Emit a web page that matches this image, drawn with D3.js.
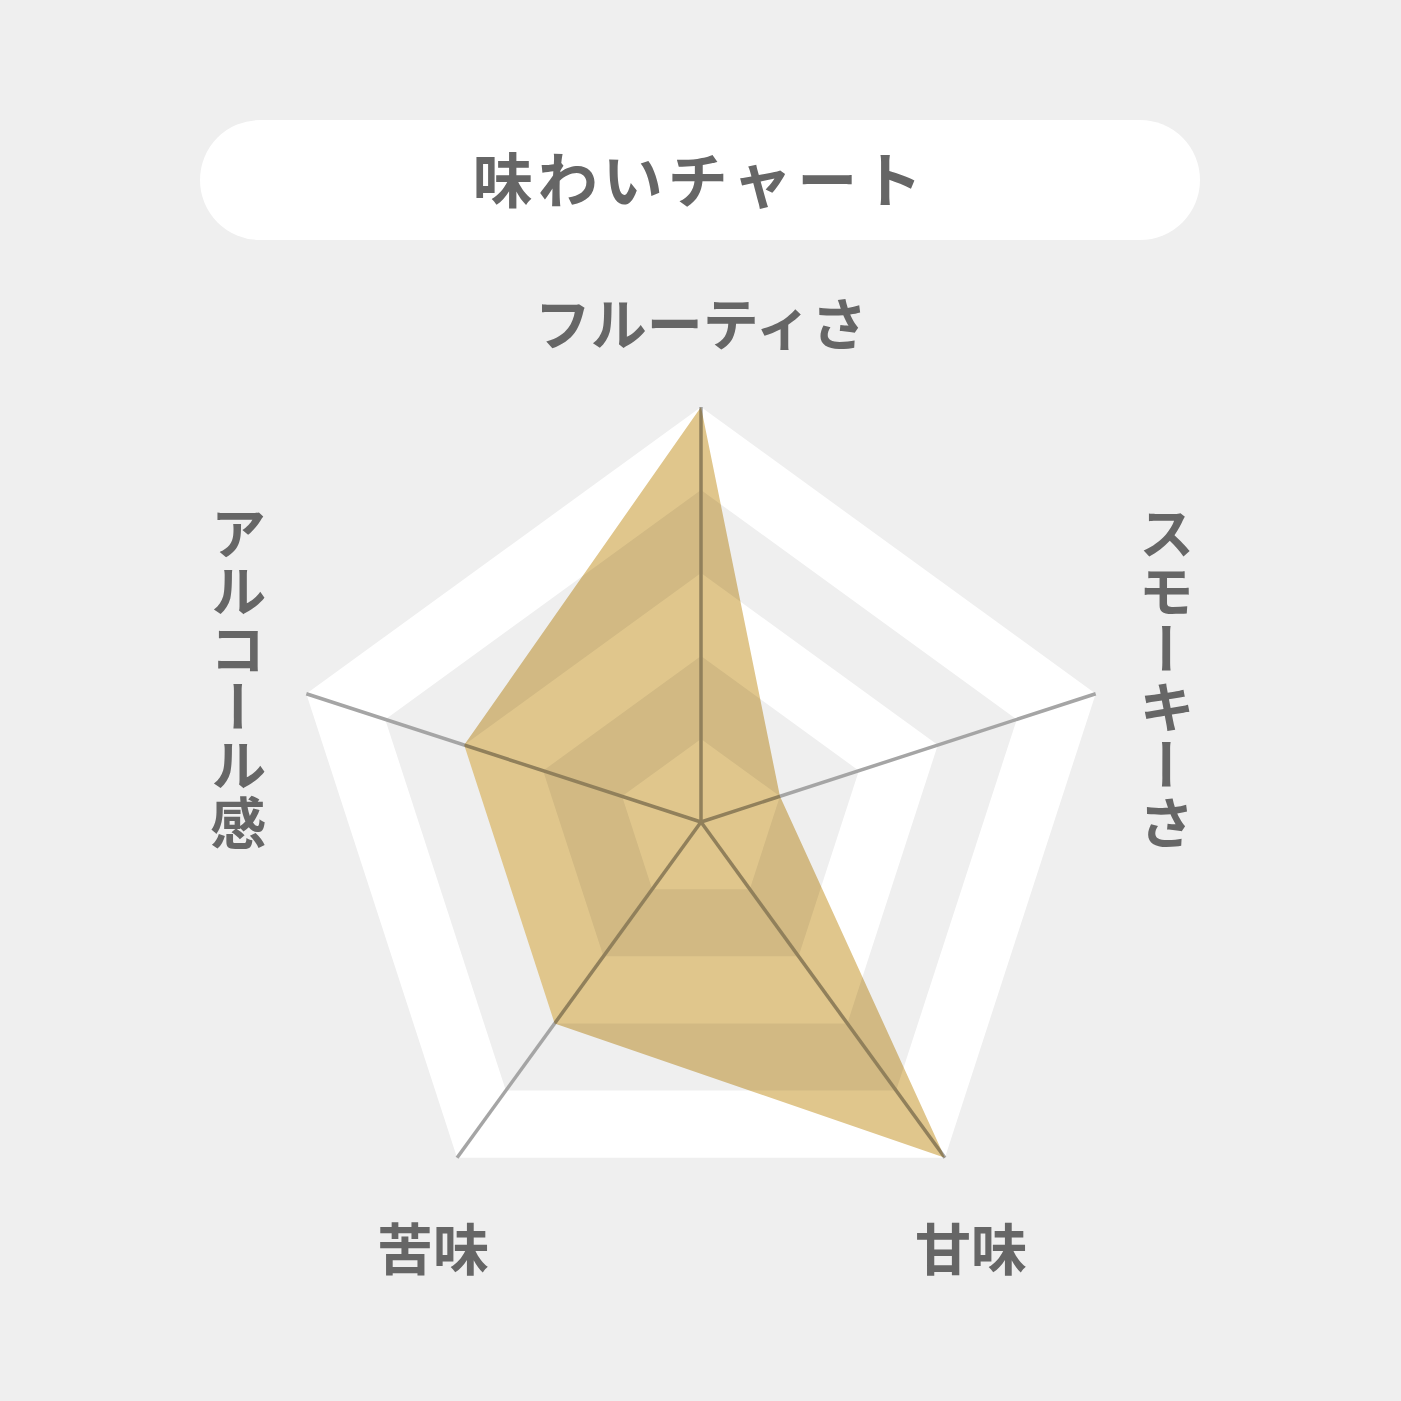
<!DOCTYPE html>
<html>
<head>
<meta charset="utf-8">
<script src="https://cdn.jsdelivr.net/npm/d3@7"></script>
<style>
  html, body { margin: 0; padding: 0; background: #efefef; }
  svg { display: block; }
  text { font-family: "Noto Sans CJK JP", "Noto Sans", sans-serif; font-weight: 700; fill: #666666; }
</style>
</head>
<body>
<svg id="chart" width="1401" height="1401"></svg>
<script>
// ---- data ----
const title = "味わいチャート";
const axes = ["フルーティさ", "スモーキーさ", "甘味", "苦味", "アルコール感"];
const values = [5, 1, 5, 3, 3];
const levels = [5, 4, 3, 2, 1];
const maxValue = 5;
// label layout: [dx, dy, vertical?] relative to each outer vertex
const labelOffsets = [[0, -87, false], [71, -15, true], [26, 88, false], [-24, 88, false], [-68, -15, true]];

const W = 1401, H = 1401;
const cx = 701, cy = 822, R = 415;
const bg = "#efefef";

const svg = d3.select("#chart");
svg.append("rect").attr("width", W).attr("height", H).attr("fill", bg);

// title pill
svg.append("rect")
  .attr("x", 200).attr("y", 120).attr("width", 1000).attr("height", 120)
  .attr("rx", 60).attr("ry", 60).attr("fill", "#ffffff");
svg.append("text")
  .attr("x", 700).attr("y", 176)
  .attr("text-anchor", "middle").attr("dominant-baseline", "central")
  .style("font-size", "60px").style("letter-spacing", "5px")
  .text(title);

const r = d3.scaleLinear().domain([0, maxValue]).range([0, R]);
const angle = d3.scaleLinear().domain([0, axes.length]).range([0, 2 * Math.PI]);
const pt = (i, v) => [cx + r(v) * Math.sin(angle(i)), cy - r(v) * Math.cos(angle(i))];

const g = svg.append("g");

// concentric bands
levels.forEach((lv, k) => {
  const pts = axes.map((_, i) => pt(i, lv));
  g.append("polygon")
    .attr("points", pts.map(p => p.join(",")).join(" "))
    .attr("fill", k % 2 === 0 ? "#ffffff" : bg);
});

// axis lines
axes.forEach((_, i) => {
  const [x, y] = pt(i, maxValue);
  g.append("line")
    .attr("x1", cx).attr("y1", cy).attr("x2", x).attr("y2", y)
    .attr("stroke", "#a5a5a5").attr("stroke-width", 3.5);
});

// data polygon
const line = d3.line().curve(d3.curveLinearClosed);
g.append("path")
  .attr("d", line(values.map((v, i) => pt(i, v))))
  .attr("fill", "#e0c68c")
  .style("mix-blend-mode", "multiply");

// labels
axes.forEach((name, i) => {
  const [x, y] = pt(i, maxValue);
  const [dx, dy, vert] = labelOffsets[i];
  const t = svg.append("text")
    .attr("x", x + dx).attr("y", y + dy)
    .attr("text-anchor", "middle")
    .style("font-size", "56px")
    .text(name);
  if (vert) {
    t.style("writing-mode", "vertical-rl").style("letter-spacing", "2px");
  } else {
    t.attr("dominant-baseline", "central");
  }
});
</script>
</body>
</html>
